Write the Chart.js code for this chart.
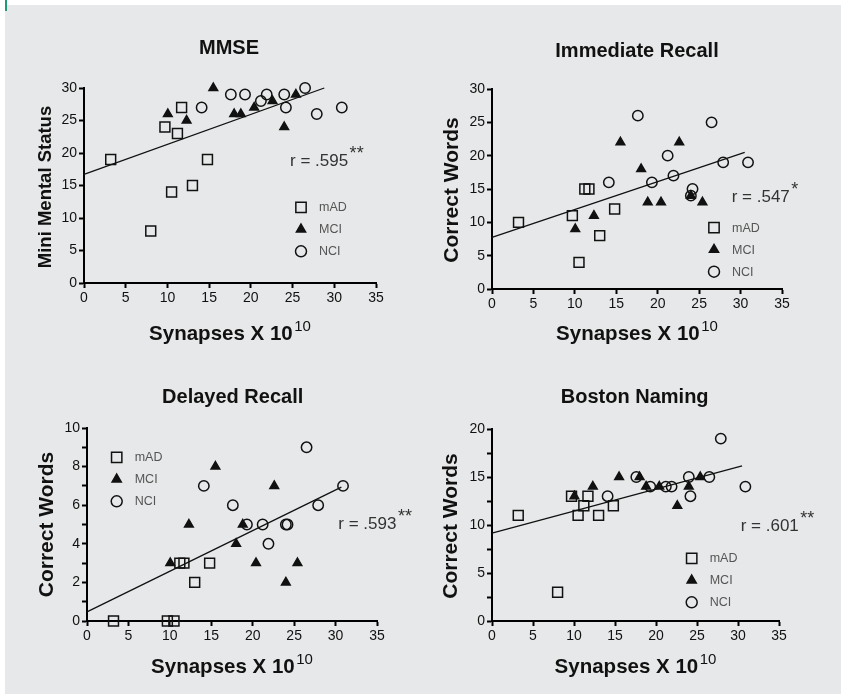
<!DOCTYPE html>
<html>
<head>
<meta charset="utf-8">
<script src="https://cdn.jsdelivr.net/npm/chart.js@4.4.0/dist/chart.umd.min.js"></script>
<style>
  html, body { margin: 0; padding: 0; background: #fff; }
  #page { position: absolute; left: 5px; top: 5px; width: 836px; height: 689px; background: #e7e8e9; }
  #mark { position: absolute; left: 5px; top: 0; width: 2px; height: 11px; background: #1f9a78; }
  canvas { position: absolute; }
</style>
</head>
<body>
<div id="page"></div>
<div id="mark"></div>
<canvas id="c1" width="420" height="345" style="left:0;top:0"></canvas>
<canvas id="c2" width="421" height="345" style="left:420px;top:0"></canvas>
<canvas id="c3" width="420" height="349" style="left:0;top:345px"></canvas>
<canvas id="c4" width="421" height="349" style="left:420px;top:345px"></canvas>
<script>
const groups = ["mAD", "MCI", "NCI"];
const panelTitles = ["MMSE", "Immediate Recall", "Delayed Recall", "Boston Naming"];
const yTitles = ["Mini Mental Status", "Correct Words", "Correct Words", "Correct Words"];
const xTitle = "Synapses X 10";
const xTitleSup = "10";
const rValues = ["r = .595", "r = .547", "r = .593", "r = .601"];
const rStars = ["**", "*", "**", "**"];

// synapse counts, same subjects in every panel
const adX = [3.2, 8.0, 9.7, 10.5, 11.2, 11.7, 13.0, 14.8];
const mciX = [10.05, 12.3, 15.5, 18.0, 18.8, 20.4, 22.6, 24.0, 25.4];
const nciX = [14.1, 17.6, 19.3, 21.2, 21.9, 24.0, 24.2, 26.5, 27.9, 30.9];

// MMSE
const mmseAd = [19, 8, 24, 14, 23, 27, 15, 19];
const mmseMci = [26, 25, 30, 26, 26, 27, 28, 24, 29];
const mmseNci = [27, 29, 29, 28, 29, 29, 27, 30, 26, 27];
const mmseFitX = [0, 28.8];
const mmseFitY = [16.7, 30];

// Immediate Recall
const immAd = [10, null, 11, 4, 15, 15, 8, 12];
const immMci = [9, 11, 22, 18, 13, 13, 22, 14, 13];
const immNci = [16, 26, 16, 20, 17, 14, 15, 25, 19, 19];
const immFitX = [0, 30.5];
const immFitY = [7.75, 20.5];

// Delayed Recall
const delAd = [0, null, 0, 0, 3, 3, 2, 3];
const delMci = [3, 5, 8, 4, 5, 3, 7, 2, 3];
const delNci = [7, 6, 5, 5, 4, 5, 5, 9, 6, 7];
const delFitX = [0, 30.7];
const delFitY = [0.47, 6.94];

// Boston Naming
const bosAd = [11, 3, 13, 11, 12, 13, 11, 12];
const bosMci = [13, 14, 15, 15, 14, 14, 12, 14, 15];
const bosNci = [13, 15, 14, 14, 14, 15, 13, 15, 19, 14];
const bosFitX = [0, 30.5];
const bosFitY = [9.15, 16.17];

const FONT = '"Liberation Sans", Arial, Helvetica, sans-serif';
Chart.defaults.font.family = FONT;
const INK = "#111";
const Y_W = 40, X_H = 30;

function pts(xs, ys) {
  let out = [];
  xs.forEach((x, i) => {
    if (ys[i] !== null) out.push({ x: x, y: ys[i] });
  });
  return out;
}

const markers = [
  { pointStyle: "rect", radius: 7, fill: "rgba(0,0,0,0)" },
  { pointStyle: "triangle", radius: 5, fill: INK },
  { pointStyle: "circle", radius: 5.2, fill: "rgba(0,0,0,0)" }
];

function group(i, data) {
  let m = markers[i];
  return {
    label: groups[i],
    data: data,
    pointStyle: m.pointStyle,
    pointRadius: m.radius,
    pointBackgroundColor: m.fill,
    pointBorderColor: INK,
    pointBorderWidth: 1.5,
    clip: false
  };
}

function drawMarker(ctx, m, x, y) {
  ctx.fillStyle = m.fill;
  ctx.strokeStyle = INK;
  ctx.lineWidth = 1.5;
  if (Chart.helpers && Chart.helpers.drawPoint) {
    Chart.helpers.drawPoint(ctx, { pointStyle: m.pointStyle, radius: m.radius + 0.3, borderWidth: 1.5, rotation: 0 }, x, y);
    return;
  }
  ctx.beginPath();
  if (m.pointStyle == "rect") {
    let s = m.radius * Math.SQRT1_2;
    ctx.rect(x - s, y - s, 2 * s, 2 * s);
  } else if (m.pointStyle == "circle") {
    ctx.arc(x, y, m.radius, 0, Math.PI * 2);
  } else {
    let r = m.radius;
    ctx.moveTo(x, y - r);
    ctx.lineTo(x + r * 0.866, y + r / 2);
    ctx.lineTo(x - r * 0.866, y + r / 2);
    ctx.closePath();
  }
  ctx.fill();
  ctx.stroke();
}

const panelText = {
  id: "panelText",
  afterDraw(chart, args, o) {
    const ctx = chart.ctx, a = chart.chartArea;
    const cx = (a.left + a.right) / 2;
    ctx.save();
    ctx.fillStyle = INK;
    ctx.textBaseline = "alphabetic";

    // title
    ctx.textAlign = "center";
    ctx.font = "bold 20px " + FONT;
    ctx.fillText(panelTitles[o.idx], o.titleX, o.titleY);

    // y title
    ctx.save();
    ctx.translate(o.yTitleX, o.yTitleY);
    ctx.rotate(-Math.PI / 2);
    ctx.font = "bold " + o.yTitleSize + "px " + FONT;
    ctx.fillText(yTitles[o.idx], 0, 0);
    ctx.restore();

    // x title with superscript
    ctx.textAlign = "left";
    ctx.font = "bold 20.5px " + FONT;
    let w1 = ctx.measureText(xTitle).width;
    ctx.font = "15px " + FONT;
    let w2 = ctx.measureText(xTitleSup).width;
    let sx = cx - (w1 + 1.5 + w2) / 2;
    ctx.font = "bold 20.5px " + FONT;
    ctx.fillText(xTitle, sx, o.xTitleY);
    ctx.font = "15px " + FONT;
    ctx.fillText(xTitleSup, sx + w1 + 1.5, o.xTitleY - 9);

    // correlation
    ctx.fillStyle = "#333";
    ctx.font = "17px " + FONT;
    ctx.fillText(rValues[o.idx], o.rX, o.rY);
    let rw = ctx.measureText(rValues[o.idx]).width;
    ctx.font = "18px " + FONT;
    ctx.fillText(rStars[o.idx], o.rX + rw + 1.5, o.rY - 7);

    // legend
    ctx.font = "12.5px " + FONT;
    ctx.textBaseline = "middle";
    groups.forEach((g, i) => {
      let y = o.legY + i * 22;
      ctx.save();
      drawMarker(ctx, markers[i], o.legX, y);
      ctx.restore();
      ctx.fillStyle = "#555";
      ctx.fillText(g, o.legX + 18, y + 0.5);
    });
    ctx.restore();
  }
};

function makeChart(id, p) {
  let cv = document.getElementById(id);
  let W = cv.width, H = cv.height;
  return new Chart(cv, {
    type: "scatter",
    data: {
      datasets: [
        group(0, pts(adX, p.ad)),
        group(1, pts(mciX, p.mci)),
        group(2, pts(nciX, p.nci)),
        {
          type: "line",
          label: "fit",
          data: pts(p.fitX, p.fitY),
          borderColor: INK,
          borderWidth: 1.3,
          pointRadius: 0,
          fill: false,
          tension: 0,
          clip: false
        }
      ]
    },
    options: {
      responsive: false,
      animation: false,
      events: [],
      layout: {
        padding: {
          left: p.area[0] - Y_W,
          right: W - p.area[1],
          top: p.area[2],
          bottom: H - p.area[3] - X_H
        }
      },
      plugins: {
        legend: { display: false },
        tooltip: { enabled: false },
        title: { display: false },
        panelText: p.text
      },
      scales: {
        x: {
          type: "linear",
          min: 0,
          max: 35,
          afterFit: s => { s.height = X_H; },
          ticks: { stepSize: 5, color: INK, font: { size: 14 }, padding: 2, maxRotation: 0, autoSkip: false },
          grid: { drawOnChartArea: false, tickLength: 5, tickWidth: 2, tickColor: "#000" },
          border: { color: "#000", width: 2 }
        },
        y: {
          min: 0,
          max: p.yMax,
          afterFit: s => { s.width = Y_W; },
          ticks: {
            stepSize: p.yStep,
            autoSkip: false,
            color: INK,
            font: { size: 14 },
            padding: 2,
            callback: v => (Math.abs(v % p.yLabelStep) < 1e-9 ? v : "")
          },
          grid: { drawOnChartArea: false, tickLength: 5, tickWidth: 2, tickColor: "#000" },
          border: { color: "#000", width: 2 }
        }
      }
    },
    plugins: [panelText]
  });
}

makeChart("c1", {
  ad: mmseAd, mci: mmseMci, nci: mmseNci, fitX: mmseFitX, fitY: mmseFitY,
  yMax: 30, yStep: 5, yLabelStep: 5,
  area: [84, 376, 88, 283],
  text: { idx: 0, titleX: 229, titleY: 54, yTitleX: 50.5, yTitleY: 187, yTitleSize: 18.5,
          xTitleY: 340, rX: 290, rY: 166, legX: 301, legY: 207.3 }
});
makeChart("c2", {
  ad: immAd, mci: immMci, nci: immNci, fitX: immFitX, fitY: immFitY,
  yMax: 30, yStep: 5, yLabelStep: 5,
  area: [72, 362, 89, 289],
  text: { idx: 1, titleX: 217, titleY: 56.5, yTitleX: 38, yTitleY: 190, yTitleSize: 21,
          xTitleY: 340, rX: 311.7, rY: 202.3, legX: 294, legY: 227.7 }
});
makeChart("c3", {
  ad: delAd, mci: delMci, nci: delNci, fitX: delFitX, fitY: delFitY,
  yMax: 10, yStep: 1, yLabelStep: 2,
  area: [87, 377, 83, 276],
  text: { idx: 2, titleX: 232.7, titleY: 57.7, yTitleX: 52.7, yTitleY: 179.5, yTitleSize: 21,
          xTitleY: 328, rX: 338.3, rY: 184.3, legX: 116.7, legY: 112.3 }
});
makeChart("c4", {
  ad: bosAd, mci: bosMci, nci: bosNci, fitX: bosFitX, fitY: bosFitY,
  yMax: 20, yStep: 2.5, yLabelStep: 5,
  area: [72, 359, 84, 276],
  text: { idx: 3, titleX: 214.7, titleY: 57.7, yTitleX: 37.3, yTitleY: 181, yTitleSize: 21,
          xTitleY: 327.5, rX: 320.7, rY: 185.7, legX: 271.7, legY: 213.3 }
});
</script>
</body>
</html>
